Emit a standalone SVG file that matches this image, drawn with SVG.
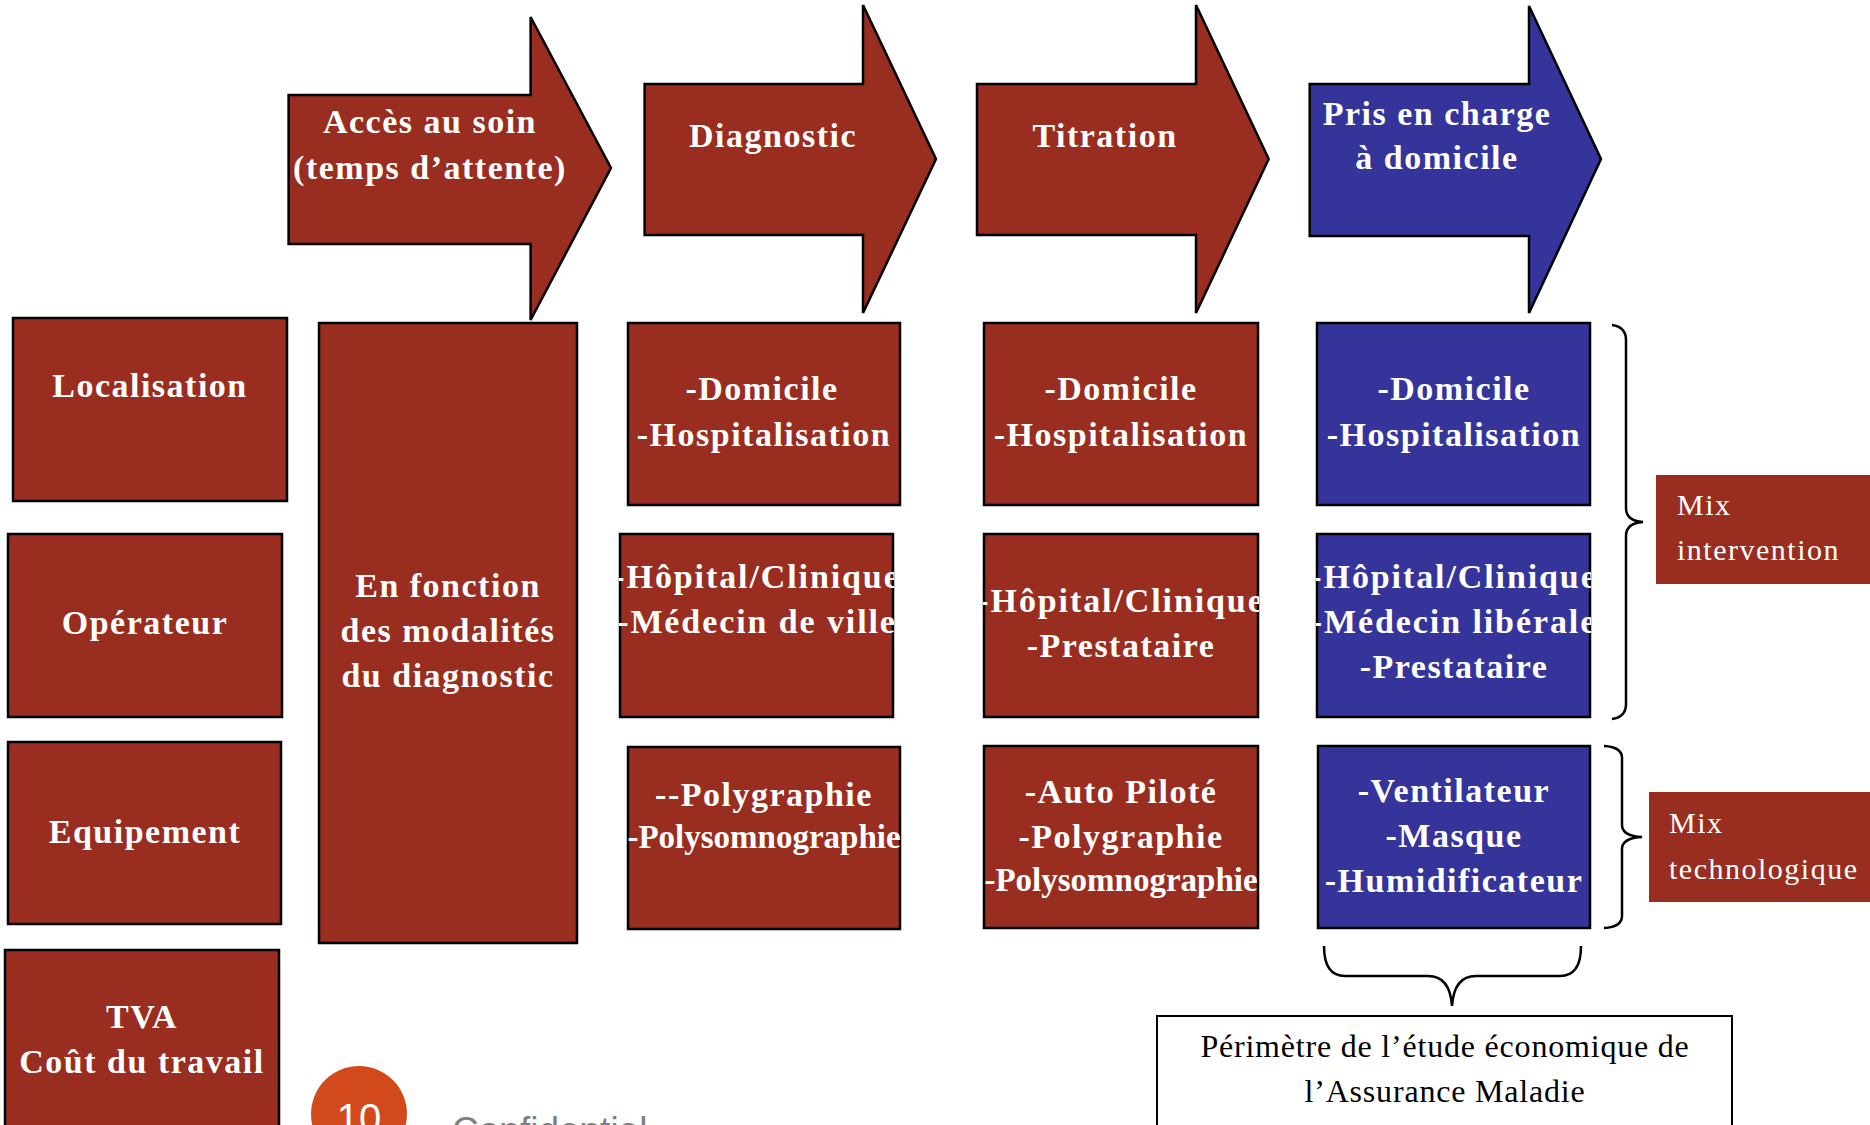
<svg xmlns="http://www.w3.org/2000/svg" width="1870" height="1125" viewBox="0 0 1870 1125">
<style>
.red{fill:#992D20;stroke:#000;stroke-width:2.5}
.blue{fill:#35349A;stroke:#000;stroke-width:2.5}
.mix{fill:#992D20}
.t{font-family:"Liberation Serif",serif;font-weight:bold;font-size:34px;letter-spacing:1.5px;fill:#fff;text-anchor:middle}
.w{letter-spacing:1.9px}
.n{font-size:33px;letter-spacing:0}
.m{font-family:"Liberation Serif",serif;font-size:30px;letter-spacing:1.5px;fill:#fff}
.p{font-family:"Liberation Serif",serif;font-size:32px;letter-spacing:0.8px;fill:#000;text-anchor:middle}
.brace{fill:none;stroke:#000;stroke-width:2.5}
</style>
<defs>
<clipPath id="cd2"><rect x="619" y="533" width="275" height="185"/></clipPath>
<clipPath id="cd3"><rect x="627" y="746" width="274" height="184"/></clipPath>
<clipPath id="ct2"><rect x="983" y="533" width="276" height="185"/></clipPath>
<clipPath id="ct3"><rect x="983" y="745" width="276" height="184"/></clipPath>
<clipPath id="cb2"><rect x="1316" y="533" width="275" height="185"/></clipPath>
</defs>
<rect width="1870" height="1125" fill="#fff"/>

<g id="arrow-acces">
<polygon class="red" points="288.6,95 530.6,95 530.6,17 611,168 530.6,320 530.6,244 288.6,244"/>
<text class="t" x="430" y="133">Accès au soin</text>
<text class="t" x="430" y="179">(temps d’attente)</text>
</g>
<g id="arrow-diagnostic">
<polygon class="red" points="644.6,84 863,84 863,5 936,159 863,313 863,235 644.6,235"/>
<text class="t" x="773" y="147">Diagnostic</text>
</g>
<g id="arrow-titration">
<polygon class="red" points="977,84 1196,84 1196,5 1268.7,159 1196,313 1196,235 977,235"/>
<text class="t" x="1105" y="147">Titration</text>
</g>
<g id="arrow-domicile">
<polygon class="blue" points="1309.7,84 1529,84 1529,6 1601,159 1529,313 1529,236 1309.7,236"/>
<text class="t" x="1437" y="125">Pris en charge</text>
<text class="t" x="1437" y="169">à domicile</text>
</g>

<g id="localisation">
<rect class="red" x="13" y="318" width="274" height="183"/>
<text class="t" x="150" y="397">Localisation</text>
</g>
<g id="operateur">
<rect class="red" x="8" y="534" width="274" height="183"/>
<text class="t" x="145" y="634">Opérateur</text>
</g>
<g id="equipement">
<rect class="red" x="8" y="742" width="273" height="182"/>
<text class="t" x="145" y="843">Equipement</text>
</g>
<g id="tva">
<rect class="red" x="5" y="950" width="274" height="200"/>
<text class="t" x="142" y="1028">TVA</text>
<text class="t" x="142" y="1073">Coût du travail</text>
</g>

<g id="en-fonction">
<rect class="red" x="319" y="323" width="258" height="620"/>
<text class="t" x="448" y="597">En fonction</text>
<text class="t" x="448" y="642">des modalités</text>
<text class="t" x="448" y="687">du diagnostic</text>
</g>

<g id="diag-localisation">
<rect class="red" x="628" y="323" width="272" height="182"/>
<text class="t" x="762" y="400">-Domicile</text>
<text class="t" x="764" y="446">-Hospitalisation</text>
</g>
<g id="diag-operateur">
<rect class="red" x="620" y="534" width="273" height="183"/>
<g clip-path="url(#cd2)">
<text class="t w" x="757" y="588">-Hôpital/Clinique</text>
<text class="t w" x="757" y="633">-Médecin de ville</text>
</g>
</g>
<g id="diag-equipement">
<rect class="red" x="628" y="747" width="272" height="182"/>
<g clip-path="url(#cd3)">
<text class="t" x="764" y="806">--Polygraphie</text>
<text class="t n" x="764" y="848">-Polysomnographie</text>
</g>
</g>

<g id="titr-localisation">
<rect class="red" x="984" y="323" width="274" height="182"/>
<text class="t" x="1121" y="400">-Domicile</text>
<text class="t" x="1121" y="446">-Hospitalisation</text>
</g>
<g id="titr-operateur">
<rect class="red" x="984" y="534" width="274" height="183"/>
<g clip-path="url(#ct2)">
<text class="t w" x="1121" y="612">-Hôpital/Clinique</text>
<text class="t" x="1121" y="657">-Prestataire</text>
</g>
</g>
<g id="titr-equipement">
<rect class="red" x="984" y="746" width="274" height="182"/>
<g clip-path="url(#ct3)">
<text class="t" x="1121" y="803">-Auto Piloté</text>
<text class="t" x="1121" y="848">-Polygraphie</text>
<text class="t n" x="1121" y="891">-Polysomnographie</text>
</g>
</g>

<g id="dom-localisation">
<rect class="blue" x="1317" y="323" width="273" height="182"/>
<text class="t" x="1454" y="400">-Domicile</text>
<text class="t" x="1454" y="446">-Hospitalisation</text>
</g>
<g id="dom-operateur">
<rect class="blue" x="1317" y="534" width="273" height="183"/>
<g clip-path="url(#cb2)">
<text class="t w" x="1454" y="588">-Hôpital/Clinique</text>
<text class="t w" x="1454" y="633">-Médecin libérale</text>
<text class="t" x="1454" y="678">-Prestataire</text>
</g>
</g>
<g id="dom-equipement">
<rect class="blue" x="1318" y="746" width="272" height="182"/>
<text class="t" x="1454" y="802">-Ventilateur</text>
<text class="t" x="1454" y="847">-Masque</text>
<text class="t" x="1454" y="892">-Humidificateur</text>
</g>

<g id="mix-intervention">
<rect class="mix" x="1656" y="475" width="214" height="109"/>
<text class="m" x="1677" y="515">Mix</text>
<text class="m" x="1677" y="560">intervention</text>
</g>
<g id="mix-technologique">
<rect class="mix" x="1649" y="792" width="221" height="110"/>
<text class="m" x="1669" y="833">Mix</text>
<text class="m" x="1669" y="879">technologique</text>
</g>

<g id="perimetre">
<rect x="1157" y="1016" width="575" height="130" fill="#fff" stroke="#000" stroke-width="2"/>
<text class="p" x="1445" y="1057">Périmètre de l’étude économique de</text>
<text class="p" x="1445" y="1102">l’Assurance Maladie</text>
</g>

<g id="page-number">
<circle cx="359" cy="1114" r="48" fill="#D24A1B"/>
<text x="359" y="1132" font-family="Liberation Sans, sans-serif" font-size="40" fill="#fff" text-anchor="middle">10</text>
</g>
<g id="confidential">
<text x="452" y="1143" font-family="Liberation Sans, sans-serif" font-size="37" fill="#7f7f7f">Confidential</text>
</g>

<g id="connectors">
<path class="brace" d="M1612,325 Q1626,327 1626,340 L1626,508 Q1626,521 1643,522 Q1626,523 1626,536 L1626,704 Q1626,717 1612,719"/>
<path class="brace" d="M1604,746 Q1622,747 1622,758 L1622,825 Q1622,836 1642,837 Q1622,838 1622,849 L1622,916 Q1622,927 1604,928"/>
<path class="brace" d="M1324,946 Q1324,976 1345,976 L1428,976 Q1450,976 1452,1006 Q1454,976 1476,976 L1560,976 Q1581,976 1581,946"/>
</g>
</svg>
